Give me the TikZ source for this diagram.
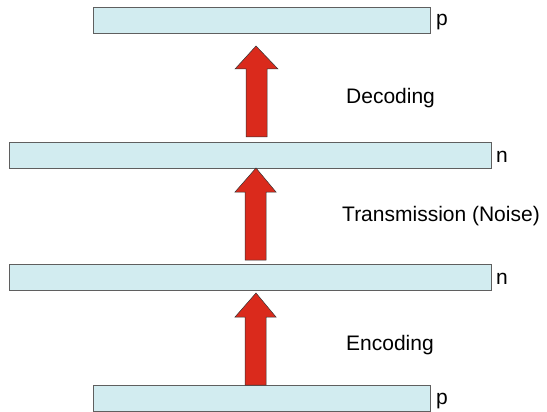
\documentclass[tikz,border=0pt]{standalone}
\usepackage{fontspec}
\setmainfont{Liberation Sans}
\definecolor{barfill}{RGB}{210,236,240}
\definecolor{bardraw}{RGB}{95,95,95}
\definecolor{arrred}{RGB}{218,42,28}
\begin{document}
\begin{tikzpicture}[x=1pt,y=-1pt,
  bar/.style={draw=bardraw,fill=barfill,line width=1pt,inner sep=0pt,anchor=north west},
  lbl/.style={font=\fontsize{21}{25}\selectfont,inner sep=0pt,anchor=base west},
  redarrow/.style={fill=arrred,draw=black!80,line width=0.5pt,line join=miter}]
\useasboundingbox (0,0) rectangle (547,412);
% bars
\node[bar,minimum width=337pt,minimum height=26pt] (b1) at (93,7) {};
\node[bar,minimum width=482pt,minimum height=26pt] (b2) at (9,142) {};
\node[bar,minimum width=482pt,minimum height=26pt] (b3) at (9,264) {};
\node[bar,minimum width=337pt,minimum height=26pt] (b4) at (93,385) {};
% side labels
\node[lbl] (l1) at (436,26) {p};
\node[lbl] (l2) at (496,162) {n};
\node[lbl] (l3) at (496,284) {n};
\node[lbl] (l4) at (436,404) {p};
% arrows (tip y, head base y, shaft bottom y)
\draw[redarrow] (256,46) -- (278,69) -- (267,69) -- (267,137) -- (246,137) -- (246,69) -- (235,69) -- cycle;
\draw[redarrow] (256,168) -- (276,192) -- (266,192) -- (266,260) -- (245,260) -- (245,192) -- (235,192) -- cycle;
\draw[redarrow] (256,293) -- (276,317) -- (266,317) -- (266,385) -- (245,385) -- (245,317) -- (235,317) -- cycle;
% step labels
\node[lbl] (t1) at (346,104) {Decoding};
\node[lbl] (t2) at (342,222) {Transmission (Noise)};
\node[lbl] (t3) at (346,350) {Encoding};
\end{tikzpicture}
\end{document}
